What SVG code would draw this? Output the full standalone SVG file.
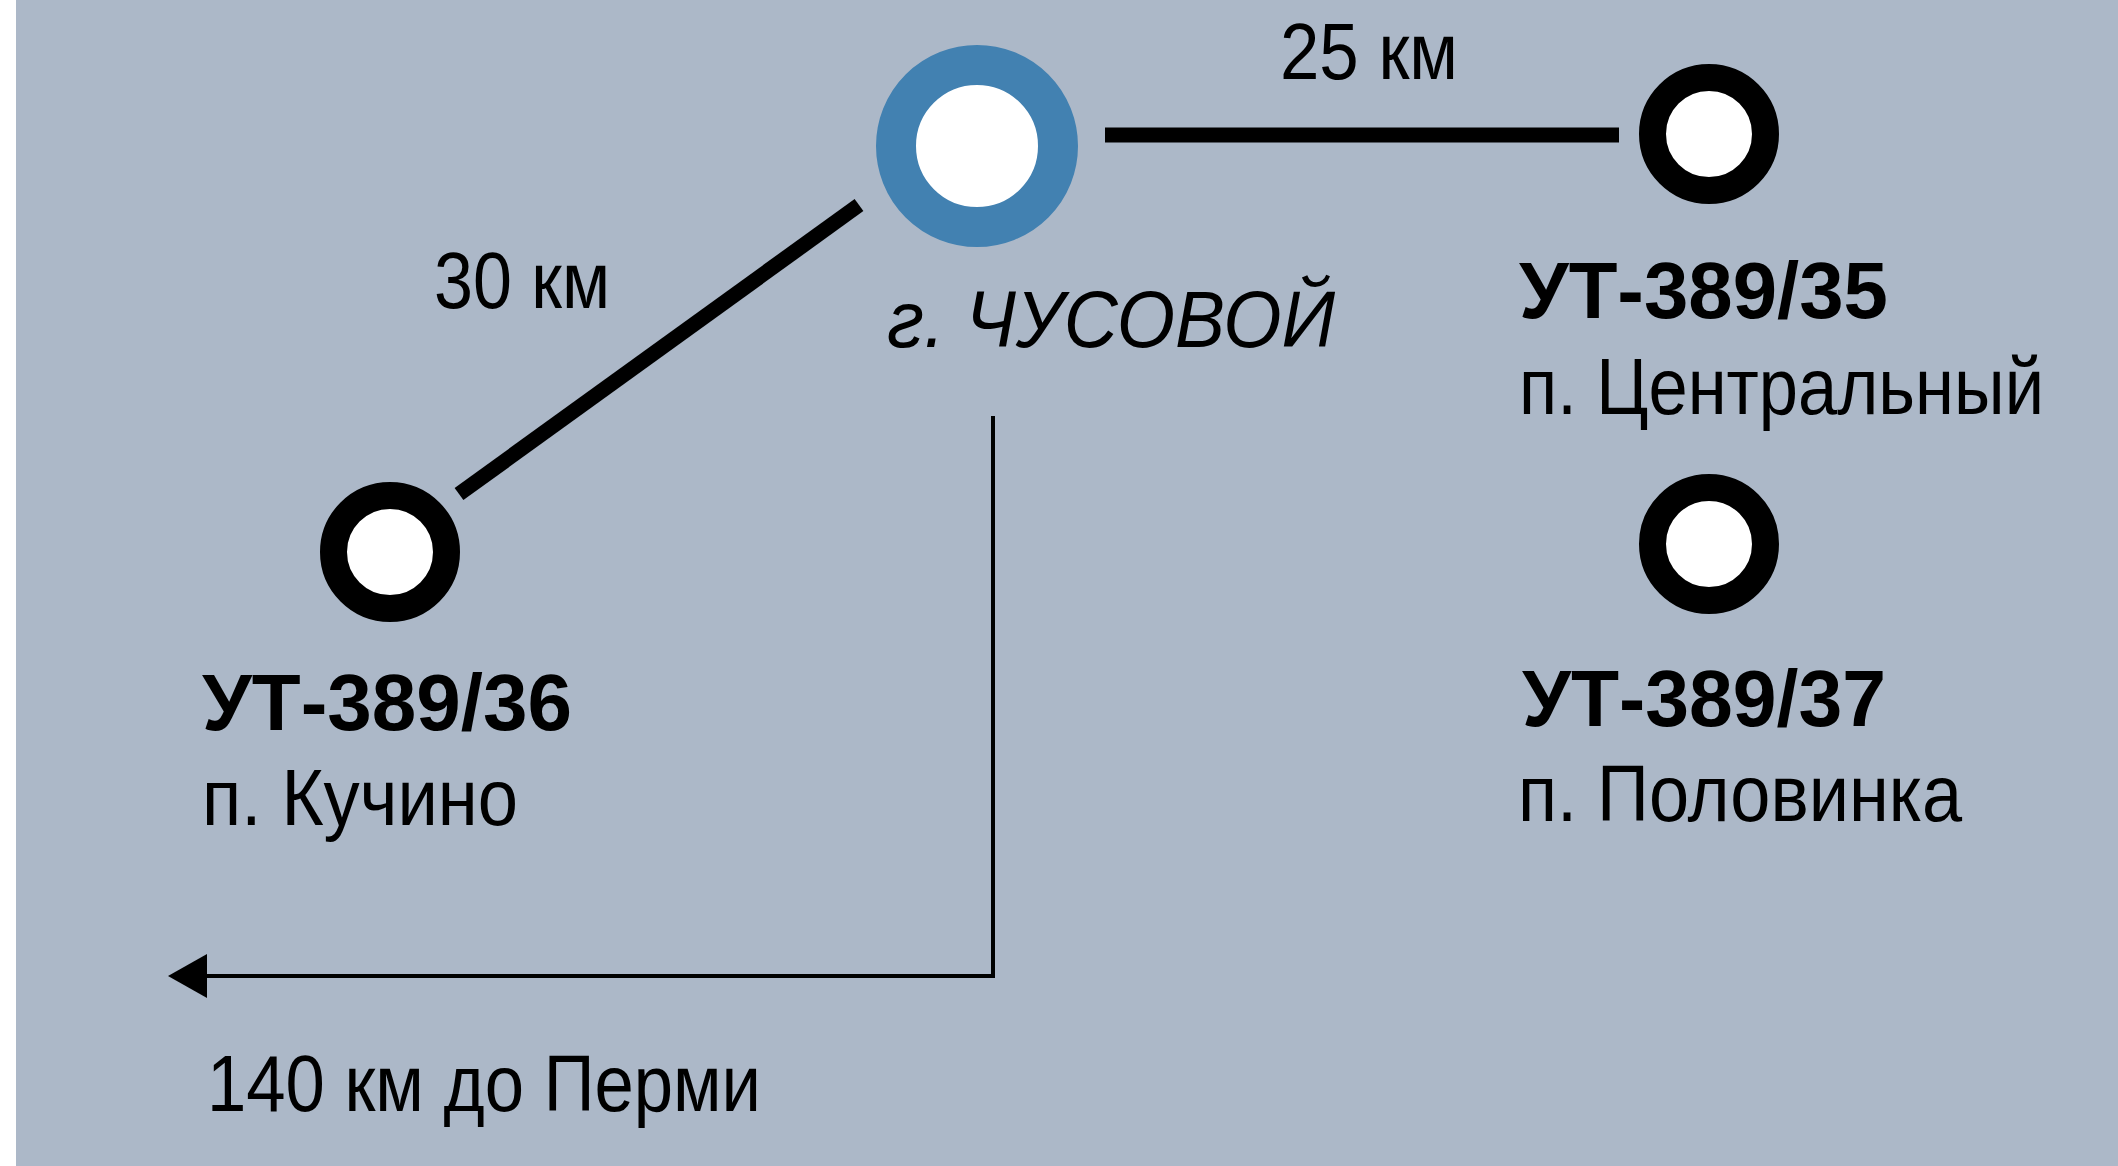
<svg xmlns="http://www.w3.org/2000/svg" width="2118" height="1166" viewBox="0 0 2118 1166">
  <style>
    .bg { fill: #acb8c8; }
    .ring { fill: #ffffff; stroke: #000000; stroke-width: 27; }
    .city { fill: #ffffff; stroke: #4281b1; stroke-width: 40; }
    .road { stroke: #000000; stroke-width: 15; fill: none; }
    .route { stroke: #000000; stroke-width: 4; fill: none; }
    .t { font-family: "Liberation Sans", Arial, sans-serif; font-size: 80px; fill: #000000; }
    .b { font-weight: bold; }
    .i { font-style: italic; }
  </style>
  <rect x="0" y="0" width="2118" height="1166" fill="#ffffff"/>
  <rect class="bg" x="16" y="0" width="2102" height="1166"/>

  <g id="connectors">
    <line class="road" x1="1105" y1="135" x2="1619" y2="135"/>
    <line class="road" x1="859" y1="205" x2="459" y2="494"/>
    <polyline class="route" points="993,416 993,976 205,976"/>
    <polygon points="168,976 207,954 207,998" fill="#000000"/>
    <text class="t" x="1280" y="79" textLength="178" lengthAdjust="spacingAndGlyphs">25 км</text>
    <text class="t" x="434" y="308" textLength="176" lengthAdjust="spacingAndGlyphs">30 км</text>
    <text class="t" x="207" y="1111" textLength="554" lengthAdjust="spacingAndGlyphs">140 км до Перми</text>
  </g>

  <g id="chusovoy">
    <circle class="city" cx="977" cy="146" r="81"/>
    <text class="t i" x="887" y="347" textLength="448" lengthAdjust="spacingAndGlyphs">г. ЧУСОВОЙ</text>
  </g>

  <g id="ut-389-35">
    <circle class="ring" cx="1709" cy="134" r="56.5"/>
    <text class="t b" x="1519" y="318" textLength="369" lengthAdjust="spacingAndGlyphs">УТ-389/35</text>
    <text class="t" x="1519" y="414" textLength="525" lengthAdjust="spacingAndGlyphs">п. Центральный</text>
  </g>

  <g id="ut-389-36">
    <circle class="ring" cx="390" cy="552" r="56.5"/>
    <text class="t b" x="202" y="730" textLength="370" lengthAdjust="spacingAndGlyphs">УТ-389/36</text>
    <text class="t" x="202" y="825" textLength="316" lengthAdjust="spacingAndGlyphs">п. Кучино</text>
  </g>

  <g id="ut-389-37">
    <circle class="ring" cx="1709" cy="544" r="56.5"/>
    <text class="t b" x="1522" y="726" textLength="364" lengthAdjust="spacingAndGlyphs">УТ-389/37</text>
    <text class="t" x="1518" y="821" textLength="444" lengthAdjust="spacingAndGlyphs">п. Половинка</text>
  </g>
</svg>
